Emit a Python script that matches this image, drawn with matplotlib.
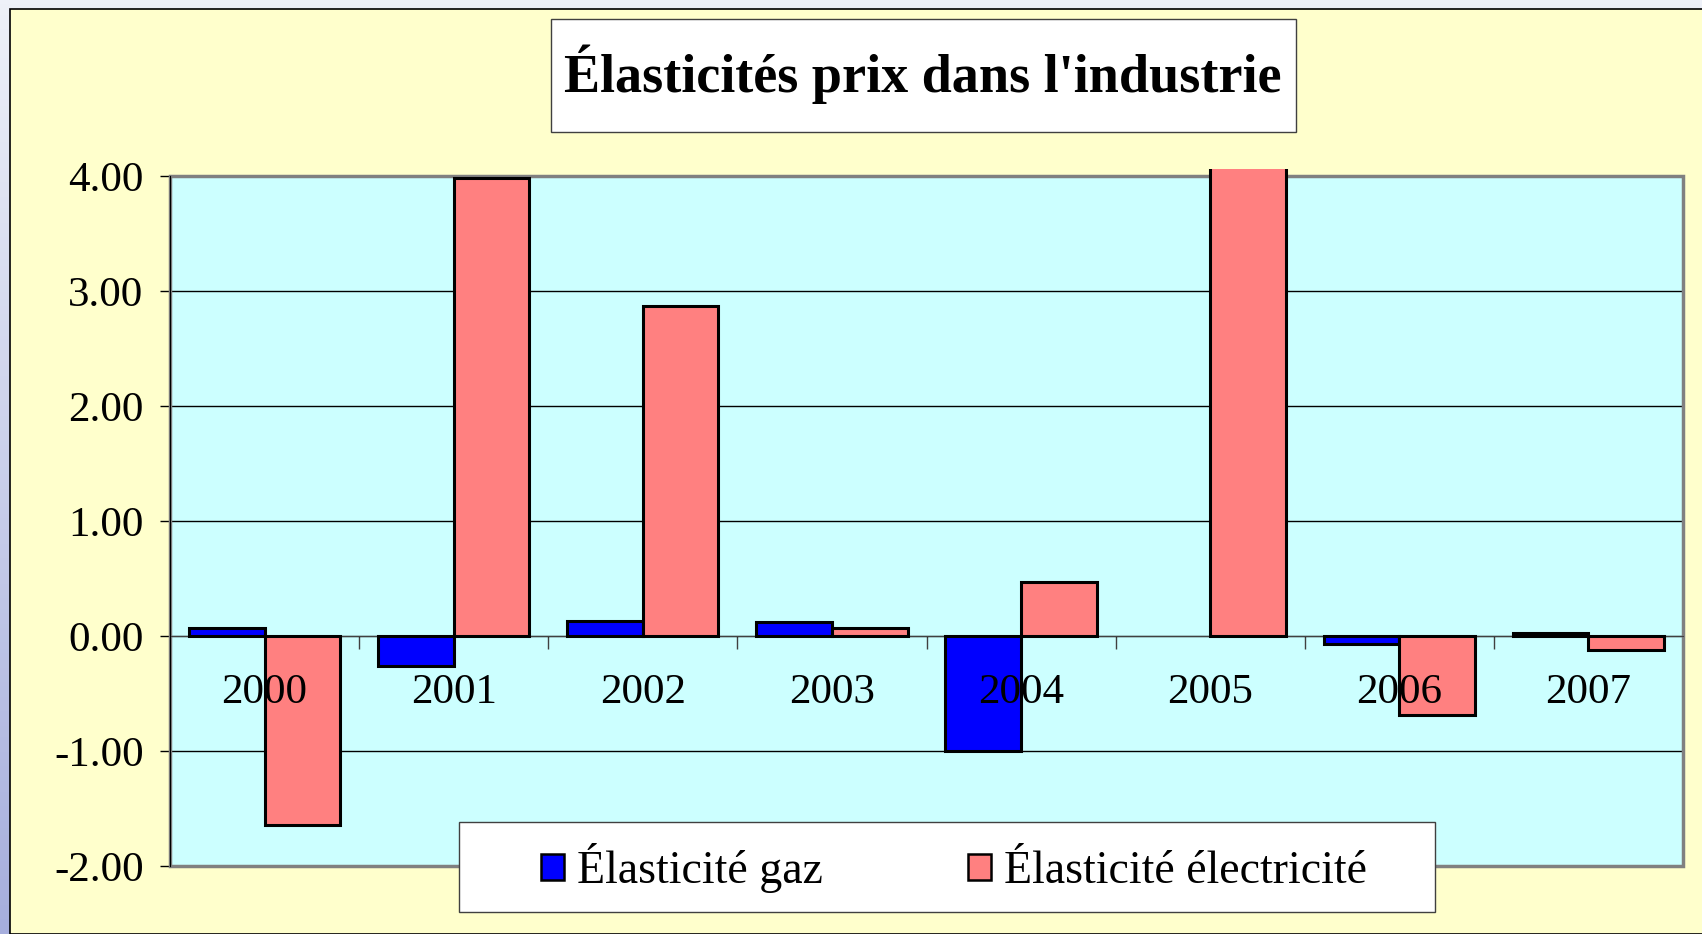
import numpy as np
import matplotlib.pyplot as plt
from matplotlib.patches import Rectangle
from matplotlib.colors import LinearSegmentedColormap

plt.rcParams['font.family'] = ['Liberation Serif', 'DejaVu Serif']

years = ['2000', '2001', '2002', '2003', '2004', '2005', '2006', '2007']
gaz = [0.07, -0.26, 0.13, 0.12, -1.00, np.nan, -0.07, 0.03]
electricite = [-1.64, 3.98, 2.87, 0.07, 0.47, 4.5, -0.69, -0.12]
yticks = [-2, -1, 0, 1, 2, 3, 4]

W, H = 1702, 934
fig = plt.figure(figsize=(W / 100, H / 100), dpi=100)

# blue-ish background strip behind the chart
bg = fig.add_axes([0, 0, 1, 1], zorder=-10)
grad = np.linspace(0, 1, 256).reshape(-1, 1)
cmap = LinearSegmentedColormap.from_list('bg', ['#eef1f8', '#a6aedd'])
bg.imshow(grad, aspect='auto', cmap=cmap, extent=[0, 1, 0, 1])
bg.set_axis_off()
bg.add_patch(Rectangle((10 / W, 0), 1, 1 - 9 / H, facecolor='#ffffcc',
                       edgecolor='black', linewidth=1.2, transform=bg.transAxes))

ax = fig.add_axes([170 / W, 1 - 866 / H, (1683 - 170) / W, (866 - 176) / H])
ax.set_facecolor('#ccffff')

x = np.arange(len(years))
width = 0.4
b1 = ax.bar(x - width / 2, gaz, width, color='#0000ff', edgecolor='black',
            linewidth=2.2, label='Élasticité gaz', zorder=3)
b2 = ax.bar(x + width / 2, electricite, width, color='#ff8080', edgecolor='black',
            linewidth=2.2, label='Élasticité électricité', zorder=3)
# excel lets the clipped bar poke a few pixels above the plot area
for bar in list(b1) + list(b2):
    bar.set_clip_path(Rectangle((0, -0.02), 1, 1.03, transform=ax.transAxes))

ax.set_xlim(-0.5, len(years) - 0.5)
ax.set_ylim(-2, 4)
ax.set_yticks(yticks)
ax.set_yticklabels(['%.2f' % v for v in yticks], fontsize=31)
ax.yaxis.grid(True, color='black', linewidth=1)
ax.set_axisbelow(True)
ax.tick_params(axis='y', length=7, width=1, pad=12)

# category axis on the zero line
ax.spines['bottom'].set_position(('data', 0))
ax.spines['bottom'].set_color('#404040')
ax.spines['bottom'].set_zorder(2.5)
ax.set_xticks(np.arange(len(years) + 1) - 0.5)
ax.set_xticklabels([])
ax.tick_params(axis='x', length=9, width=1, color='#404040', direction='out')
for i, yr in enumerate(years):
    ax.text(i, -0.49, yr, ha='center', va='center', fontsize=31, zorder=5)

ax.spines['top'].set_visible(False)
ax.spines['right'].set_visible(False)
ax.add_patch(Rectangle((0, 0), 1, 1, transform=ax.transAxes, fill=False,
                       edgecolor='#808080', linewidth=2.5, zorder=2, clip_on=False))
ax.spines['left'].set_color('black')
ax.spines['left'].set_zorder(2.6)

# title box
fig.patches.append(Rectangle((551 / W, 1 - 132 / H), (1296 - 551) / W, (132 - 19) / H,
                             facecolor='white', edgecolor='#404040', linewidth=1,
                             transform=fig.transFigure, figure=fig, zorder=5))
fig.text(923 / W, 1 - 74 / H, "Élasticités prix dans l'industrie", ha='center',
         va='center', fontsize=39, fontweight='bold', zorder=6)

# legend box
fig.patches.append(Rectangle((459 / W, 1 - 912 / H), (1435 - 459) / W, (912 - 822) / H,
                             facecolor='white', edgecolor='#404040', linewidth=1,
                             transform=fig.transFigure, figure=fig, zorder=5))
leg = fig.legend(loc='center', bbox_to_anchor=(954 / W, 1 - 868 / H), ncol=2,
                 fontsize=33, frameon=False, handlelength=0.5, handleheight=0.5,
                 handletextpad=0.3, columnspacing=3.15, borderpad=0.2)
leg.set_zorder(10)
for h in leg.legend_handles:
    h.set_linewidth(1.8)

fig.savefig('out.png', dpi=100)
